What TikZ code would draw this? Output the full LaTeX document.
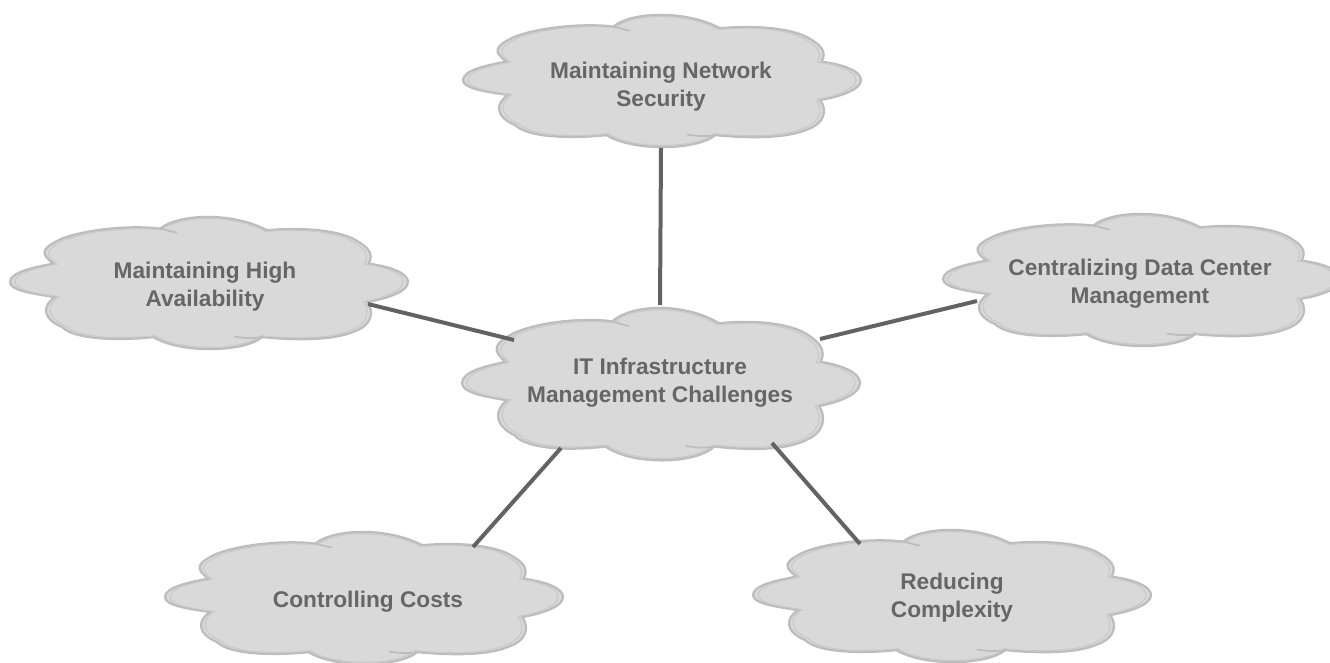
\documentclass[tikz,border=0pt]{standalone}
\usepackage{fontspec}
\setmainfont{Liberation Sans}
\definecolor{cloudfill}{HTML}{D9D9D9}
\definecolor{cloudedge}{HTML}{BDBDBD}
\definecolor{cloudinner}{HTML}{C9C9C9}
\definecolor{ink}{HTML}{666666}
\definecolor{linkc}{HTML}{636363}
\tikzset{
  x=0.75pt,y=-0.75pt,
  anchorbox/.style={inner sep=0pt,outer sep=0pt,align=center,text=ink,font=\bfseries\fontsize{17}{21}\selectfont},
  link/.style={draw=linkc,line width=3pt},
}
\newcommand{\cloudpath}{
  (-146,-160) .. controls (-90,-205) and (70,-210) .. (174,-155)
  .. controls (280,-165) and (390,-155) .. (440,-125)
  .. controls (475,-105) and (495,-85) .. (478,-55)
  .. controls (550,-45) and (596,-25) .. (596,0)
  .. controls (596,30) and (530,50) .. (474,60)
  .. controls (495,90) and (490,130) .. (430,150)
  .. controls (370,175) and (260,175) .. (160,165)
  .. controls (100,213) and (-90,213) .. (-166,165)
  .. controls (-260,175) and (-400,175) .. (-440,135)
  .. controls (-500,110) and (-500,70) .. (-461,45)
  .. controls (-530,35) and (-596,25) .. (-596,0)
  .. controls (-596,-30) and (-520,-45) .. (-466,-55)
  .. controls (-505,-85) and (-505,-100) .. (-440,-130)
  .. controls (-360,-160) and (-230,-170) .. (-146,-160) -- cycle
}
\newcommand{\cloudat}[3]{% cx cy yscale
  \begin{scope}[shift={(#1,#2)},xscale=0.3339,yscale=#3]
    \fill[cloudfill,draw=cloudedge,line width=1.7pt] \cloudpath;
    \draw[cloudinner,line width=0.8pt,scale=0.975] \cloudpath;
    \draw[cloudedge,line width=1.3pt] (-146,-160) .. controls (-125,-155) and (-110,-150) .. (-96,-148);
    \draw[cloudedge,line width=1.3pt] (160,165) .. controls (130,170) and (100,168) .. (74,163);
  \end{scope}
}
\begin{document}
\begin{tikzpicture}
\useasboundingbox (0,0) rectangle (1330,663);
\clip (0,0) rectangle (1330,663);
\coordinate (hub) at (661,383);
\coordinate (sec) at (662,80);
\coordinate (hav) at (209,282);
\coordinate (dcm) at (1142,279);
\coordinate (cost) at (364,597);
\coordinate (cplx) at (952,595);
% clouds
\cloudat{662}{80}{0.3339}
\cloudat{209}{282}{0.3339}
\cloudat{1142}{279}{0.3339}
\cloudat{364}{597}{0.3339}
\cloudat{952}{595}{0.3339}
\cloudat{661}{383}{0.385}
% connectors
\draw[link] ([shift={(-1,-78)}]hub) -- ([shift={(-1,68)}]sec);
\draw[link] ([shift={(-147,-43)}]hub) -- ([shift={(159,22)}]hav);
\draw[link] ([shift={(159,-44)}]hub) -- ([shift={(-165,22)}]dcm);
\draw[link] ([shift={(-100,65)}]hub) -- ([shift={(109,-50)}]cost);
\draw[link] ([shift={(111,60)}]hub) -- ([shift={(-92,-51)}]cplx);
% labels
\node[anchorbox] (nsec) at (661,86.5) {Maintaining Network\\Security};
\node[anchorbox] (nhav) at (205,287) {Maintaining High\\Availability};
\node[anchorbox] (ndcm) at (1140,284) {Centralizing Data Center\\Management};
\node[anchorbox] (ncost) at (368,602) {Controlling Costs};
\node[anchorbox] (ncplx) at (952,598) {Reducing\\Complexity};
\node[anchorbox] (nhub) at (660,382.5) {IT Infrastructure\\Management Challenges};
\end{tikzpicture}
\end{document}
